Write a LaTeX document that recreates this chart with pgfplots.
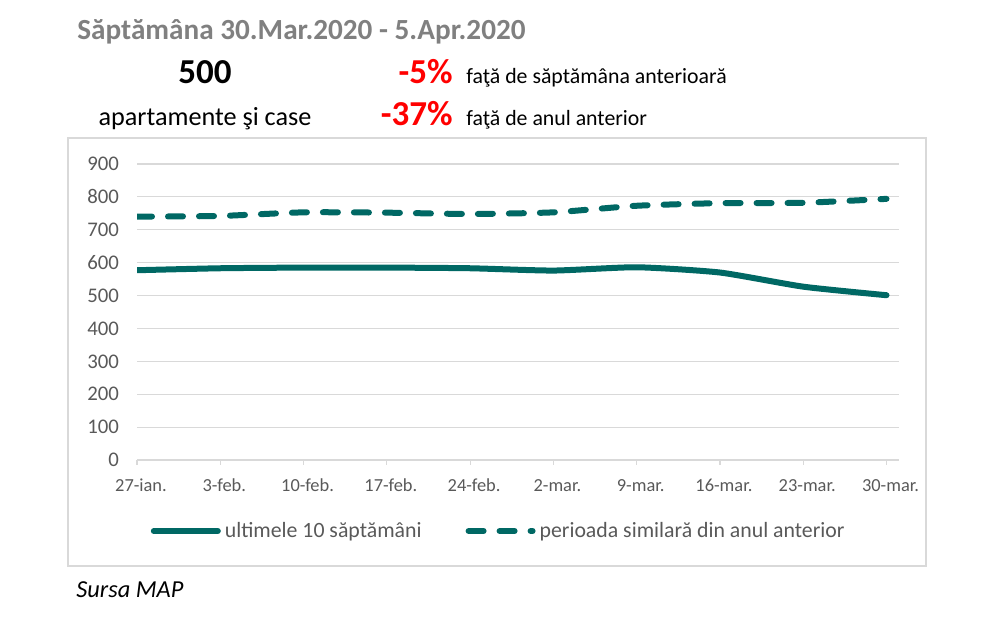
\documentclass[border=0pt]{standalone}
\usepackage{pgfplots}
\pgfplotsset{compat=1.18}
\usepackage{fontspec}
\setmainfont{Carlito}
\definecolor{teal}{RGB}{0,104,100}
\definecolor{gridgray}{RGB}{217,217,217}
\definecolor{labgray}{RGB}{89,89,89}
\definecolor{titlegray}{RGB}{128,128,128}

\pgfplotstableread{
x  cur  prev
0  577  740
1  583  742
2  585  753
3  585  752
4  583  748
5  576  753
6  586  773
7  570  781
8  527  782
9  501  794
}\weekdata

\begin{document}
\begin{tikzpicture}
\useasboundingbox (0,0) rectangle (501.5pt,316pt);
% chart frame
\draw[gridgray, line width=0.6pt] (34pt,33pt) rectangle (463pt,247pt);

\begin{axis}[
  at={(68.5pt,86pt)}, anchor=south west,
  scale only axis,
  width=381pt, height=148pt,
  xmin=0, xmax=9.15,
  ymin=0, ymax=900,
  ytick={0,100,...,900},
  xtick={0,...,9},
  xticklabels={27-ian.,3-feb.,10-feb.,17-feb.,24-feb.,2-mar.,9-mar.,16-mar.,23-mar.,30-mar.},
  axis line style={draw=none},
  ymajorgrids,
  grid style={gridgray, line width=0.6pt},
  ytick style={draw=none},
  xtick style={gridgray, line width=0.6pt},
  tick align=outside,
  xtick pos=bottom,
  major tick length=2.5pt,
  /pgf/number format/assume math mode=true,
  yticklabel style={font=\fontsize{10.4}{12}\selectfont, text=labgray, xshift=-3pt},
  xticklabel style={font=\fontsize{9.2}{11}\selectfont, text=labgray, yshift=-3.5pt, xshift=2pt},
  legend columns=2,
  legend style={at={(0.476,-0.24)}, anchor=center, draw=none, fill=none,
    font=\fontsize{10.9}{13}\selectfont, text=labgray,
    /tikz/every even column/.append style={column sep=20pt},
    inner sep=0pt},
  legend cell align=left,
  legend image code/.code={\draw[#1] (0pt,0pt) -- (32pt,0pt);},
]
\addplot[teal, line width=3pt, line cap=round, line join=round, smooth, tension=0.35]
  table[x=x, y=cur] {\weekdata};
\addlegendentry{ultimele 10 săptămâni}
\addplot[teal, line width=3pt, line cap=round, line join=round, dash pattern=on 7.5pt off 8pt, smooth, tension=0.35]
  table[x=x, y=prev] {\weekdata};
\addlegendentry{perioada similară din anul anterior}
\end{axis}

% header texts
\node[anchor=west, inner sep=0pt, text=titlegray, font=\fontsize{14.6}{17}\selectfont\bfseries] at (38.5pt,300pt) {Săptămâna 30.Mar.2020 - 5.Apr.2020};
\node[anchor=base, inner sep=0pt, font=\fontsize{17.5}{20}\selectfont\bfseries] at (102.5pt,274pt) {500};
\node[anchor=base east, inner sep=0pt, text=red, font=\fontsize{17.5}{20}\selectfont\bfseries] at (226.5pt,274pt) {-5\%};
\node[anchor=base west, inner sep=0pt, font=\fontsize{10.9}{13}\selectfont] at (233pt,274pt) {faţă de săptămâna anterioară};
\node[anchor=base, inner sep=0pt, font=\fontsize{13.1}{15}\selectfont] at (102.5pt,253pt) {apartamente şi case};
\node[anchor=base east, inner sep=0pt, text=red, font=\fontsize{17.5}{20}\selectfont\bfseries] at (226.5pt,253pt) {-37\%};
\node[anchor=base west, inner sep=0pt, font=\fontsize{10.9}{13}\selectfont] at (233pt,253pt) {faţă de anul anterior};
\node[anchor=base west, inner sep=0pt, font=\fontsize{12.2}{14}\selectfont\itshape] at (38pt,17pt) {Sursa MAP};
\end{tikzpicture}
\end{document}
